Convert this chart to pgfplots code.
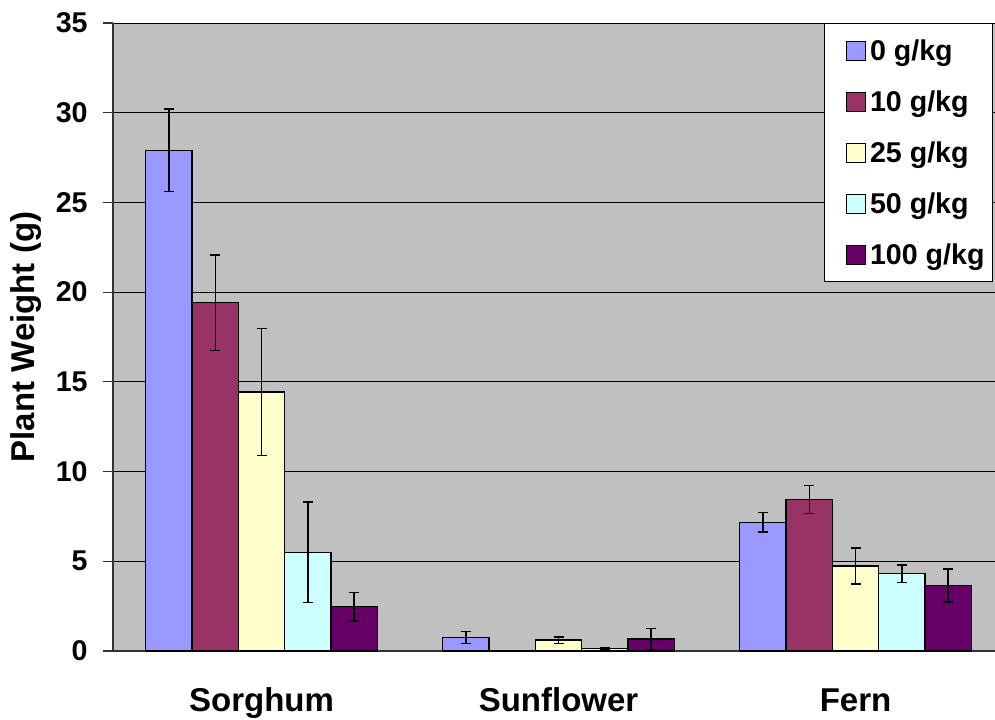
\documentclass[border=0pt]{standalone}
\usepackage{fontspec}
\setmainfont{Liberation Sans}
\usepackage{pgfplots}
\pgfplotsset{compat=1.18}
\definecolor{c0}{HTML}{9999FF}
\definecolor{c10}{HTML}{993366}
\definecolor{c25}{HTML}{FFFFCC}
\definecolor{c50}{HTML}{CCFFFF}
\definecolor{c100}{HTML}{660066}
\definecolor{plotbg}{HTML}{C0C0C0}

% x: 1 = Sorghum, 2 = Sunflower, 3 = Fern
\pgfplotstableread{
x y err
1 27.90 2.30
2 0.76 0.34
3 7.17 0.54
}\dzero
\pgfplotstableread{
x y err
1 19.41 2.67
2 0.00 0.00
3 8.45 0.77
}\dten
\pgfplotstableread{
x y err
1 14.43 3.53
2 0.61 0.18
3 4.74 1.00
}\dtwentyfive
\pgfplotstableread{
x y err
1 5.50 2.80
2 0.13 0.04
3 4.31 0.48
}\dfifty
\pgfplotstableread{
x y err
1 2.47 0.80
2 0.67 0.60
3 3.66 0.92
}\dhundred

\begin{document}
\begin{tikzpicture}
\begin{axis}[
    name=ax,
    scale only axis,
    width=441pt, height=314pt,
    ybar=0pt, bar width=23.15pt,
    xmin=0.5, xmax=3.4697,
    ymin=0, ymax=35,
    ytick={0,5,...,35},
    xtick={1,2,3},
    xticklabels={Sorghum,Sunflower,Fern},
    major x tick style={draw=none},
    extra x ticks={0.5,1.5,2.5},
    extra x tick labels={},
    extra x tick style={major tick length=5pt, tick style={black!80, line width=0.6pt}},
    tick align=outside,
    major tick length=5pt,
    ytick style={black!80, line width=0.6pt},
    axis x line*=bottom, axis y line*=left,
    axis line style={black!80, line width=0.6pt, -},
    axis background/.style={fill=plotbg},
    ymajorgrids,
    grid style={black, line width=0.5pt},
    /pgf/number format/assume math mode=true,
    yticklabel style={font=\fontsize{14.3}{16}\selectfont\bfseries, anchor=east, inner sep=0pt, xshift=-7.5pt},
    xticklabel style={font=\fontsize{16.5}{18}\selectfont\bfseries, anchor=base, inner sep=0pt, yshift=-25pt},
    ylabel={Plant Weight (g)},
    ylabel style={font=\fontsize{16.5}{18}\selectfont\bfseries, at={(axis description cs:0,0.5)}, anchor=center, yshift=43.5pt},
    error bars/y dir=both, error bars/y explicit,
    error bars/error bar style={black, line width=0.7pt},
    error bars/error mark options={rotate=90, black, mark size=2.5pt, line width=0.7pt},
    legend image code/.code={\path (-2.5pt,0pt); \draw[#1, line width=0.5pt] (6.3pt,-4.75pt) rectangle (15.8pt,4.75pt);},
    legend style={at={(rel axis cs:1,1)}, anchor=north east, xshift=-1pt, yshift=-0.2pt,
        draw=black, fill=white, line width=0.5pt,
        font=\fontsize{14.3}{16}\selectfont\bfseries,
        cells={anchor=west}, row sep=9.5pt, inner ysep=5.4pt, inner xsep=2pt,
        nodes={text height=11pt, text depth=1pt, inner xsep=2pt, inner ysep=2pt}},
    clip=true,
]
\addplot[fill=c0, draw=black, line width=0.6pt] table[x=x, y=y, y error=err] {\dzero};
\addlegendentry{0 g/kg}
\addplot[fill=c10, draw=black, line width=0.6pt] table[x=x, y=y, y error=err] {\dten};
\addlegendentry{10 g/kg}
\addplot[fill=c25, draw=black, line width=0.6pt] table[x=x, y=y, y error=err] {\dtwentyfive};
\addlegendentry{25 g/kg}
\addplot[fill=c50, draw=black, line width=0.6pt] table[x=x, y=y, y error=err] {\dfifty};
\addlegendentry{50 g/kg}
\addplot[fill=c100, draw=black, line width=0.6pt] table[x=x, y=y, y error=err] {\dhundred};
\addlegendentry{100 g/kg}
\end{axis}
\pgfresetboundingbox
\path[use as bounding box] ([xshift=-56.5pt,yshift=-34pt]ax.south west) rectangle ([yshift=11.5pt]ax.north east);
\end{tikzpicture}
\end{document}
